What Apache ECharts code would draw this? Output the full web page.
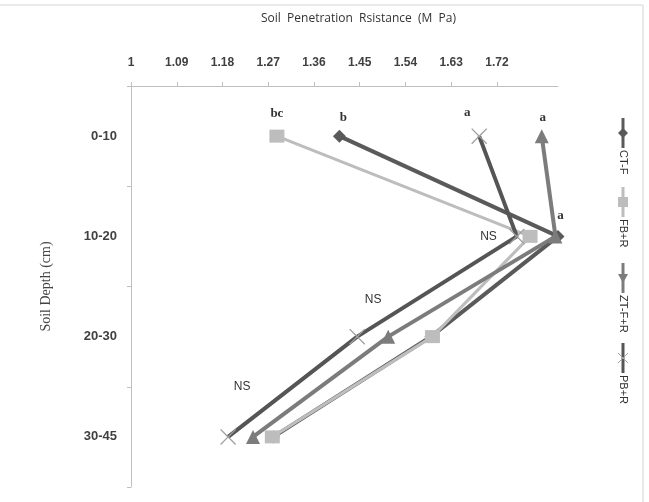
<!DOCTYPE html>
<html>
<head>
<meta charset="utf-8">
<script src="https://cdn.jsdelivr.net/npm/echarts@6/dist/echarts.min.js"></script>
<style>
html, body { margin: 0; padding: 0; background: #fff; }
#main { width: 649px; height: 502px; }
</style>
</head>
<body>
<div id="main"></div>
<script>
// soil depth classes, top to bottom
const depths = ['0-10', '10-20', '20-30', '30-45'];
// penetration resistance (MPa) for each treatment
const ctF = [1.41, 1.84, 1.59, 1.28];
const fbR = [1.287, 1.785, 1.593, 1.278];
const ztFR = [1.808, 1.835, 1.506, 1.24];
const pbR = [1.685, 1.759, 1.445, 1.191];
// significance letters next to the points
const ctFNotes = ['b', '', '', ''];
const fbRNotes = ['bc', '', '', ''];
const ztFRNotes = ['a', 'a', '', ''];
const pbRNotes = ['a', 'NS', 'NS', 'NS'];
// value axis
const xTicks = [1, 1.09, 1.18, 1.27, 1.36, 1.45, 1.54, 1.63, 1.72];
const xMin = 1;
const xMax = 1.84;

const crossPath = 'path://M0,0.6 L0.6,0 L5,4.4 L9.4,0 L10,0.6 L5.6,5 L10,9.4 L9.4,10 L5,5.6 L0.6,10 L0,9.4 L4.4,5 Z';

// where each note sits relative to its point
const noteLayout = {
  'CT-F': [{ position: 'top', offset: [4, 0] }],
  'FB+R': [{ position: 'top', offset: [0, -4] }],
  'ZT-F+R': [{ position: 'top', offset: [1, 0] }, { position: 'top', offset: [5, -2] }],
  'PB+R': [
    { position: 'top', offset: [-12, -4] },
    { position: 'left', distance: 12 },
    { position: 'inside', offset: [16, -37] },
    { position: 'inside', offset: [14, -50] }
  ]
}

function noteStyle(txt) {
  if (txt === 'NS') {
    return { fontFamily: 'Liberation Sans', fontSize: 12, color: '#333' }
  }
  return { fontFamily: 'Liberation Serif', fontWeight: 'bold', fontSize: 13, color: '#333' }
}

function makeSeries(name, values, notes, color, symbol, size, width, symbolColor) {
  return {
    name: name,
    type: 'line',
    symbol: symbol,
    symbolSize: size,
    lineStyle: { color: color, width: width },
    itemStyle: { color: symbolColor || color },
    z: 2,
    data: values.map(function (v, i) {
      const item = { value: [v, depths[i]] }
      if (notes[i]) {
        const lay = noteLayout[name][i] || {}
        item.label = Object.assign({ show: true, formatter: notes[i] }, noteStyle(notes[i]), lay)
      }
      return item
    })
  }
}

// rotated legend on the right
function legendGraphic() {
  const items = [
    { name: 'CT-F', color: '#5a5a5a', shape: 'diamond', ox: 0 },
    { name: 'FB+R', color: '#bdbdbd', shape: 'square', ox: 69 },
    { name: 'ZT-F+R', color: '#7c7c7c', shape: 'triangle', ox: 145 },
    { name: 'PB+R', color: '#555555', shape: 'cross', ox: 225 }
  ]
  const children = []
  items.forEach(function (it) {
    const o = it.ox
    children.push({ type: 'line', shape: { x1: o, y1: 0, x2: o + 30, y2: 0 }, style: { stroke: it.color, lineWidth: 3 } })
    const c = o + 15
    if (it.shape === 'diamond') {
      children.push({ type: 'polygon', shape: { points: [[c, -5], [c + 5, 0], [c, 5], [c - 5, 0]] }, style: { fill: it.color } })
    } else if (it.shape === 'square') {
      children.push({ type: 'rect', shape: { x: c - 5, y: -5, width: 10, height: 10 }, style: { fill: it.color } })
    } else if (it.shape === 'triangle') {
      children.push({ type: 'polygon', shape: { points: [[c + 5, 0], [c - 4, -5], [c - 4, 5]] }, style: { fill: it.color } })
    } else {
      children.push({ type: 'line', shape: { x1: c - 5, y1: -5, x2: c + 5, y2: 5 }, style: { stroke: '#a0a0a0', lineWidth: 1 } })
      children.push({ type: 'line', shape: { x1: c - 5, y1: 5, x2: c + 5, y2: -5 }, style: { stroke: '#a0a0a0', lineWidth: 1 } })
    }
    children.push({
      type: 'text',
      x: o + 32,
      y: 0,
      style: { text: it.name, fontFamily: 'Liberation Sans', fontSize: 11, fill: '#333', verticalAlign: 'middle' }
    })
  })
  return { type: 'group', x: 623, y: 118, rotation: -Math.PI / 2, children: children }
}

var myChart = echarts.init(document.getElementById('main'))
var option = {
  backgroundColor: '#fff',
  animation: false,
  grid: { left: 131, right: 91, top: 86, bottom: 15 },
  xAxis: {
    type: 'value',
    position: 'top',
    min: xMin,
    max: xMax,
    name: 'Soil  Penetration  Rsistance  (M  Pa)',
    nameLocation: 'middle',
    nameGap: 61,
    nameTextStyle: { fontFamily: 'Open Sans', fontSize: 12, color: '#333', padding: [0, 0, 0, 28] },
    axisLine: { show: true, lineStyle: { color: '#bfbfbf' } },
    axisTick: { show: true, length: 4, customValues: xTicks, lineStyle: { color: '#bfbfbf' } },
    splitLine: { show: false },
    axisLabel: {
      customValues: xTicks,
      margin: 17,
      fontFamily: 'Liberation Sans',
      fontWeight: 'bold',
      fontSize: 12,
      color: '#404040',
      formatter: function (v) { return +v.toFixed(2) + '' }
    }
  },
  yAxis: {
    type: 'category',
    inverse: true,
    data: depths,
    name: 'Soil Depth (cm)',
    nameLocation: 'middle',
    nameGap: 78,
    nameRotate: 90,
    nameTextStyle: { fontFamily: 'Liberation Serif', fontSize: 14, color: '#444' },
    axisLine: { show: true, lineStyle: { color: '#bfbfbf' } },
    axisTick: { show: true, length: 4, lineStyle: { color: '#bfbfbf' } },
    axisLabel: {
      margin: 14,
      fontFamily: 'Liberation Sans',
      fontWeight: 'bold',
      fontSize: 13,
      color: '#404040'
    }
  },
  graphic: [
    { type: 'rect', shape: { x: -5, y: 5, width: 648, height: 510 }, style: { fill: 'none', stroke: '#d4d4d4', lineWidth: 1 }, silent: true },
    legendGraphic()
  ],
  series: [
    makeSeries('CT-F', ctF, ctFNotes, '#5a5a5a', 'diamond', 13, 4),
    makeSeries('FB+R', fbR, fbRNotes, '#bdbdbd', 'rect', [15, 13], 3),
    makeSeries('ZT-F+R', ztFR, ztFRNotes, '#7c7c7c', 'triangle', 14, 4),
    makeSeries('PB+R', pbR, pbRNotes, '#555555', crossPath, 16, 4, '#a0a0a0')
  ]
}
myChart.setOption(option)
</script>
</body>
</html>
